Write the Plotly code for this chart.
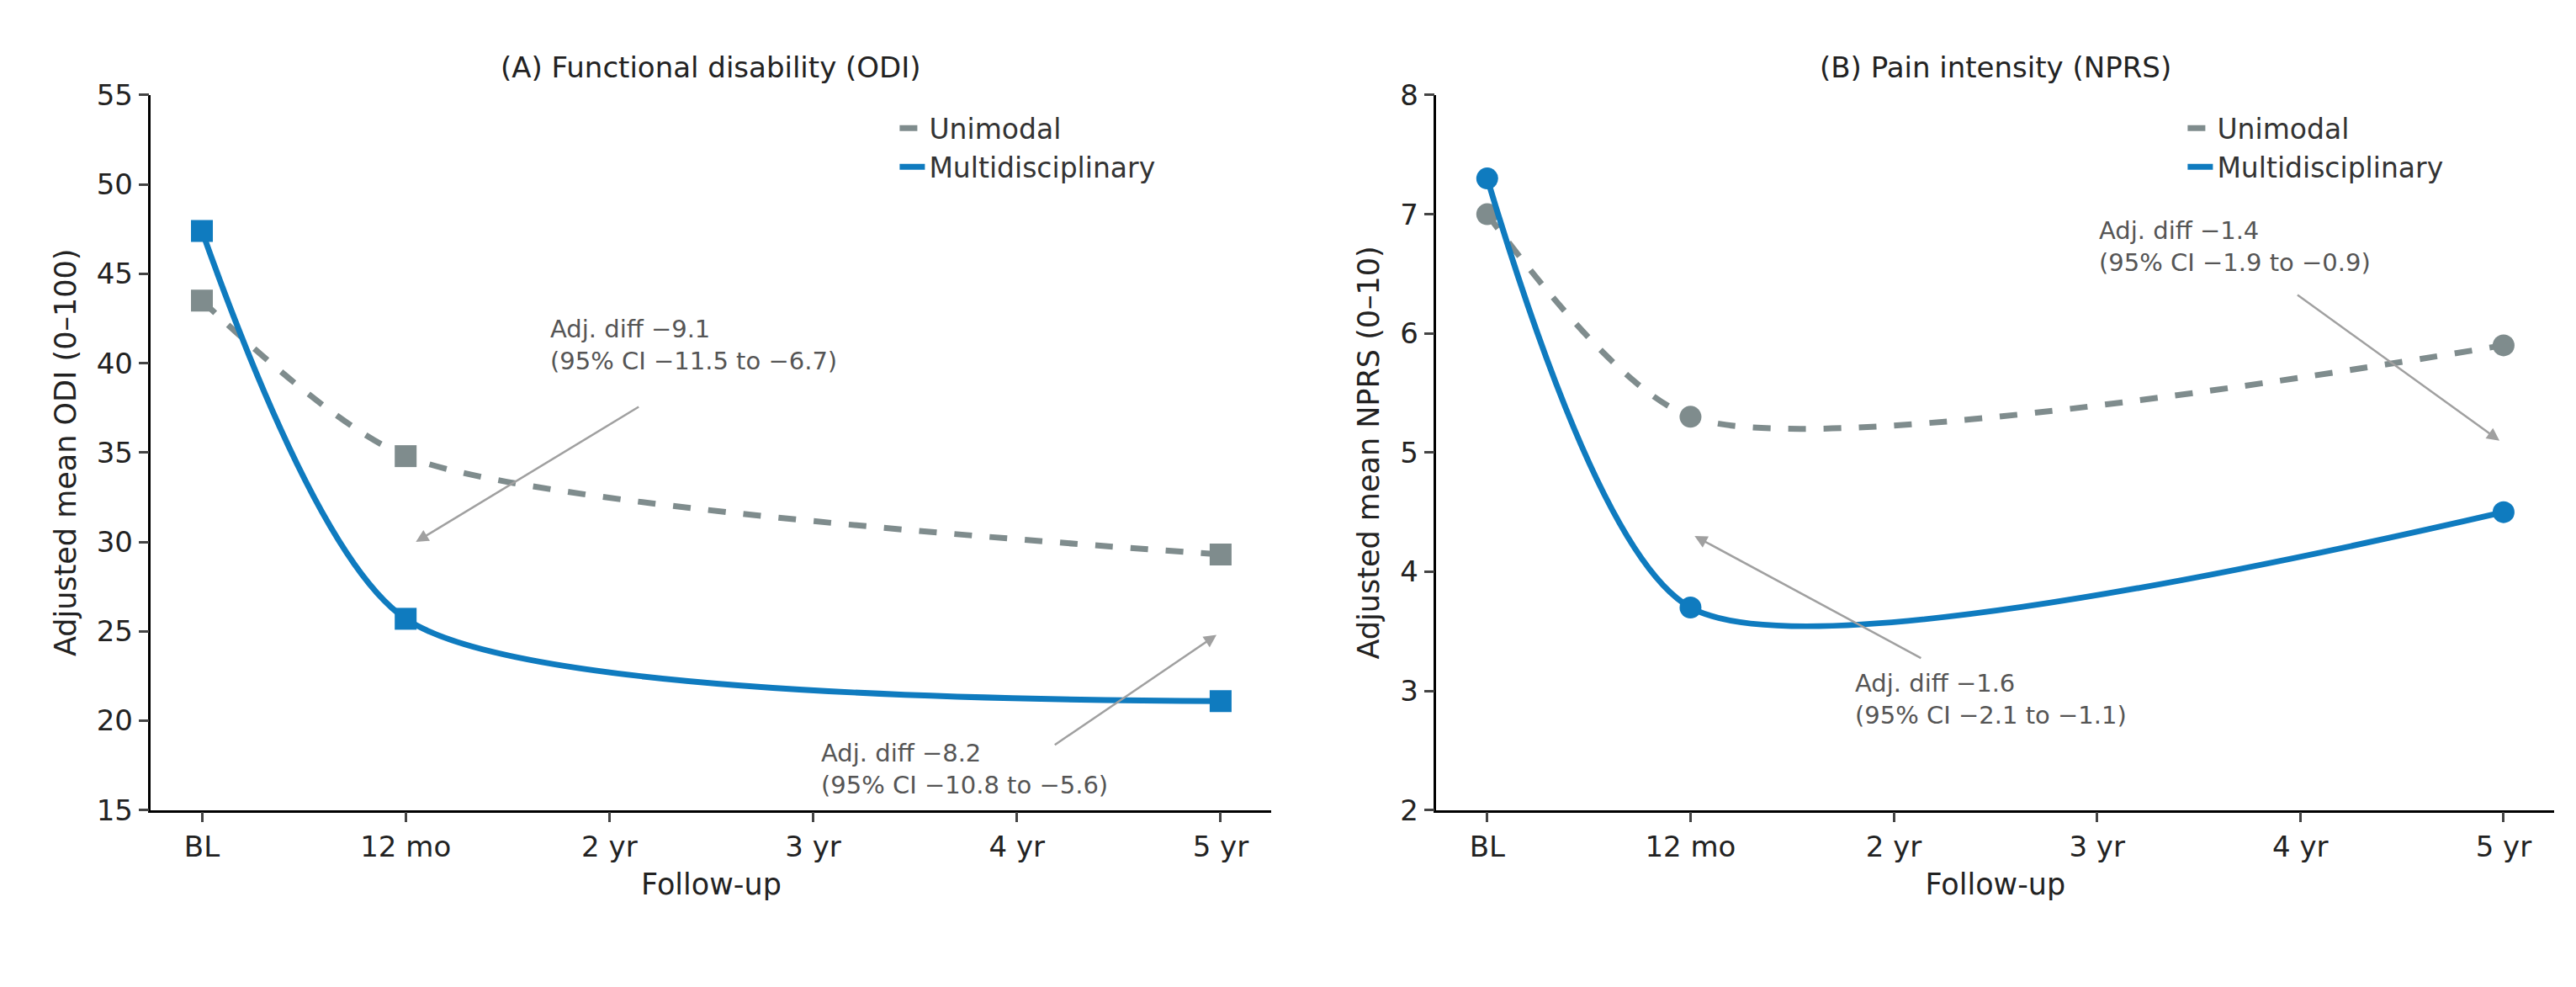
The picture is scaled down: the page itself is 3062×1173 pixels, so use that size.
import plotly.graph_objects as go

ticks = ["BL", "12 mo", "2 yr", "3 yr", "4 yr", "5 yr"]
x_obs = [0, 1, 5]

odi_uni = [43.5, 34.8, 29.3]
odi_multi = [47.4, 25.7, 21.1]
nprs_uni = [7.0, 5.3, 5.9]
nprs_multi = [7.3, 3.7, 4.5]

GREY = "#7f8c8d"
BLUE = "#0f7bbf"
TXT = "#555555"
FONT = "DejaVu Sans"

fig = go.Figure()

def add_panel(uni, multi, sym, xa, ya, leg):
    fig.add_trace(go.Scatter(x=x_obs, y=uni, mode="lines+markers", xaxis=xa, yaxis=ya,
                             line=dict(color=GREY, width=7, dash="dash", shape="spline", smoothing=0.7),
                             marker=dict(symbol=sym, size=26, color=GREY), showlegend=False))
    fig.add_trace(go.Scatter(x=x_obs, y=multi, mode="lines+markers", xaxis=xa, yaxis=ya,
                             line=dict(color=BLUE, width=7, shape="spline", smoothing=0.7),
                             marker=dict(symbol=sym, size=26, color=BLUE), showlegend=False))
    fig.add_trace(go.Scatter(x=[None], y=[None], mode="lines", name="Unimodal", xaxis=xa, yaxis=ya,
                             line=dict(color=GREY, width=7, dash="dash"), legend=leg))
    fig.add_trace(go.Scatter(x=[None], y=[None], mode="lines", name="Multidisciplinary", xaxis=xa, yaxis=ya,
                             line=dict(color=BLUE, width=7), legend=leg))

add_panel(odi_uni, odi_multi, "square", "x", "y", "legend")
add_panel(nprs_uni, nprs_multi, "circle", "x2", "y2", "legend2")

ax_common = dict(showgrid=False, zeroline=False, showline=True, linecolor="black", linewidth=2.5,
                 ticks="outside", ticklen=12, tickwidth=2.5, tickfont=dict(size=34, color="#222"))
xcommon = dict(ax_common, range=[-0.25, 5.25], tickmode="array", tickvals=list(range(6)), ticktext=ticks,
               title=dict(text="Follow-up", font=dict(size=35, color="#222"), standoff=14))

legend_style = dict(bgcolor="rgba(0,0,0,0)", font=dict(size=33, color="#333"), xanchor="left", yanchor="top")

fig.update_layout(
    width=3062, height=1173, plot_bgcolor="white", paper_bgcolor="white",
    font=dict(family=FONT, color="#222"),
    margin=dict(l=0, r=0, t=0, b=0),
    xaxis=dict(xcommon, domain=[0.056, 0.491], anchor="y"),
    xaxis2=dict(xcommon, domain=[0.555, 0.989], anchor="y2"),
    yaxis=dict(ax_common, domain=[0.175, 0.925], range=[15, 55], dtick=5, anchor="x",
               title=dict(text="Adjusted mean ODI (0–100)", font=dict(size=35, color="#222"), standoff=14)),
    yaxis2=dict(ax_common, domain=[0.175, 0.925], range=[2, 8], dtick=1, anchor="x2",
                title=dict(text="Adjusted mean NPRS (0–10)", font=dict(size=35, color="#222"), standoff=14)),
    legend=dict(legend_style, x=0.345, y=0.915),
    legend2=dict(legend_style, x=0.845, y=0.915),
)

titles = [("(A) Functional disability (ODI)", 0.2735), ("(B) Pain intensity (NPRS)", 0.772)]
for t, xp in titles:
    fig.add_annotation(text=t, xref="paper", yref="paper", x=xp, y=0.935, xanchor="center", yanchor="bottom",
                       showarrow=False, font=dict(size=34, color="#222"))

notes = [
    ("x", "y", "Adj. diff −9.1<br>(95% CI −11.5 to −6.7)", 1.7, 41.0, 2.15, 37.6, 1.05, 30.0),
    ("x", "y", "Adj. diff −8.2<br>(95% CI −10.8 to −5.6)", 3.03, 17.3, 4.18, 18.6, 4.98, 24.8),
    ("x2", "y2", "Adj. diff −1.4<br>(95% CI −1.9 to −0.9)", 3.0, 6.73, 3.98, 6.33, 4.98, 5.1),
    ("x2", "y2", "Adj. diff −1.6<br>(95% CI −2.1 to −1.1)", 1.8, 2.93, 2.14, 3.27, 1.02, 4.3),
]
for xr, yr, txt, tx, ty, x0, y0, x1, y1 in notes:
    fig.add_annotation(text=txt, xref=xr, yref=yr, x=tx, y=ty, xanchor="left", yanchor="middle",
                       align="left", showarrow=False, font=dict(size=29, color=TXT))
    fig.add_annotation(text="", xref=xr, yref=yr, x=x1, y=y1, axref=xr, ayref=yr, ax=x0, ay=y0,
                       showarrow=True, arrowhead=2, arrowsize=1.2, arrowwidth=2.5, arrowcolor="#a0a0a0")

fig.write_html("out.html")
